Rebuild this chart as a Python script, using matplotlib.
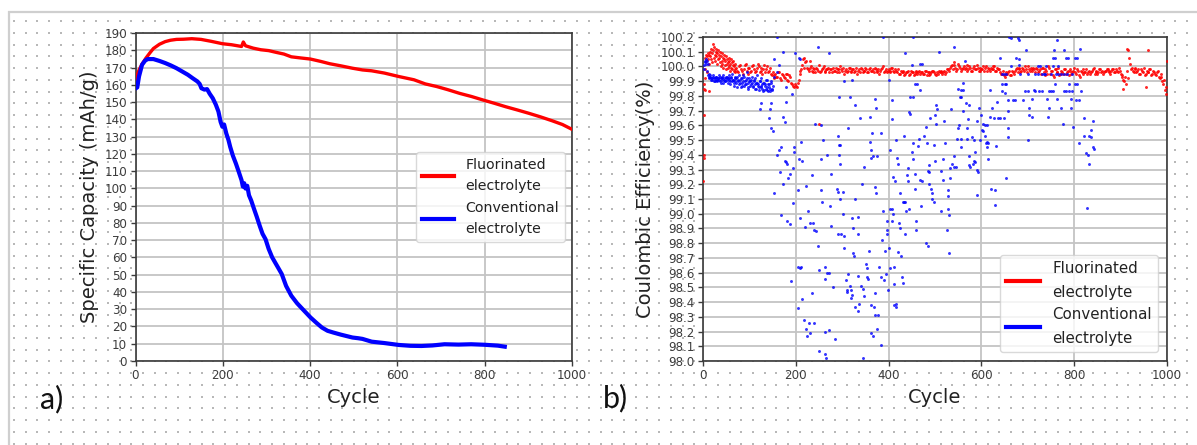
import numpy as np
import matplotlib
matplotlib.use("Agg")
import matplotlib.pyplot as plt
from matplotlib.lines import Line2D
from matplotlib.ticker import MultipleLocator, FormatStrFormatter

# ---------------- Panel a data: specific capacity vs cycle ----------------
fluor_cycles = [1, 4, 8, 15, 24, 33, 41, 55, 68, 80, 94, 110, 129, 150, 173, 199, 220, 243,
                247, 252, 270, 287, 305, 322, 340, 357, 380, 401, 425, 445, 470, 497, 520,
                541, 570, 603, 638, 664, 690, 715, 743, 770, 796, 822, 848, 875, 901, 928,
                954, 978, 1000]
fluor_cap = [163.5, 165.8, 168.5, 172.0, 175.5, 178.5, 181.0, 183.5, 185.0, 185.8, 186.3,
             186.4, 186.7, 186.3, 185.2, 183.8, 183.2, 182.2, 184.8, 182.6, 181.2, 180.3,
             179.8, 178.8, 177.8, 176.2, 175.5, 174.9, 173.5, 172.2, 171.0, 169.6, 168.6,
             168.1, 166.8, 164.8, 162.9, 160.5, 159.0, 157.2, 155.0, 153.2, 151.2, 149.3,
             147.3, 145.4, 143.5, 141.4, 139.2, 137.0, 134.2]

conv_cycles = [1, 4, 8, 15, 22, 28, 41, 55, 68, 81, 94, 107, 120, 131, 142, 147, 151, 158,
               164, 170, 177, 184, 190, 195, 199, 203, 208, 213, 217, 223, 230, 236, 243, 246,
               249, 252, 256, 260, 265, 271, 278, 285, 291, 298, 305, 313, 320, 328, 335, 345,
               357, 370, 383, 401, 415, 427, 440, 453, 470, 497, 510, 520, 541, 570, 603, 630,
               655, 680, 708, 740, 769, 800, 830, 846]
conv_cap = [158.0, 158.5, 164.8, 171.6, 174.0, 174.9, 174.9, 173.8, 172.6, 171.2, 169.6,
            167.7, 165.8, 163.8, 161.9, 160.5, 158.0, 157.2, 157.5, 154.8, 152.2, 148.5,
            144.5, 138.5, 135.7, 137.0, 131.8, 128.0, 124.0, 119.0, 114.4, 110.0, 104.7,
            101.0, 103.0, 99.9, 101.5, 96.0, 93.0, 88.5, 83.4, 78.0, 73.7, 70.5, 65.0, 60.1,
            57.0, 53.5, 50.4, 43.5, 37.8, 33.5, 30.0, 25.2, 22.0, 19.4, 17.5, 16.5, 15.3,
            13.6, 13.2, 12.8, 11.2, 10.4, 9.3, 8.8, 8.7, 9.0, 9.7, 9.5, 9.7, 9.4, 8.9, 8.3]

# ---------------- Panel b data: coulombic efficiency vs cycle ----------------
# Fluorinated, first cycles (cycle, CE)
fluor_ce_early = [(1, 99.22), (2, 99.38), (2, 99.40), (2, 99.67), (3, 99.85), (3, 99.88),
                  (4, 99.92), (5, 99.84), (4, 99.98), (5, 100.06), (6, 100.08), (7, 100.04),
                  (8, 99.96), (9, 100.07), (10, 100.09), (11, 100.05), (12, 99.83),
                  (13, 100.08), (14, 100.02), (15, 100.10), (16, 100.07), (17, 100.12),
                  (18, 100.05), (19, 100.09), (20, 100.03), (21, 100.15), (22, 100.11),
                  (23, 100.06), (24, 100.13), (25, 100.08), (26, 100.04), (27, 100.10),
                  (28, 100.07), (29, 100.12), (30, 100.02), (31, 100.09), (32, 100.05),
                  (33, 100.11), (34, 100.06), (35, 100.08), (36, 100.03), (37, 100.10),
                  (38, 100.00), (39, 100.07), (40, 100.04), (41, 100.09), (42, 100.02),
                  (43, 100.06), (44, 99.99), (45, 100.05), (46, 100.08), (47, 100.01),
                  (48, 100.04), (49, 99.98), (50, 100.07), (51, 100.02), (52, 100.05),
                  (53, 99.99), (54, 100.03), (55, 100.06), (56, 100.00), (57, 100.04),
                  (58, 99.97), (59, 100.02), (60, 100.05), (61, 99.99), (62, 100.03),
                  (63, 99.98), (64, 100.01), (65, 100.04), (66, 99.97), (67, 100.00),
                  (68, 99.98), (69, 100.02), (70, 99.96)]
# Fluorinated, cycles 72..996 every 4 cycles
fluor_ce_start, fluor_ce_step = 72, 4
fluor_ce_band = [
    99.99, 99.96, 100.01, 99.97, 99.98, 100.02, 99.95, 99.99, 99.97, 100.01, 99.96, 99.99, 100.00,
    99.97, 99.95, 100.01, 99.98, 99.96, 99.99, 99.94, 99.92, 99.95, 99.93, 99.96, 99.91,
    99.94, 99.92, 99.95, 99.90, 99.93, 99.88, 99.86, 99.87, 99.89, 99.95, 99.98, 100.05, 100.03,
    99.99, 99.97, 100.00, 99.96, 99.98, 99.99, 99.97, 99.96, 99.98, 100.00, 99.97, 99.98,
    99.96, 99.98, 99.99, 99.97, 99.96, 99.98, 100.00, 99.97, 99.95, 99.98, 99.97, 99.99, 99.96,
    99.98, 99.97, 99.95, 99.98, 99.99, 99.96, 99.97, 99.98, 99.96, 99.99, 99.97, 99.96,
    99.98, 99.97, 99.95, 99.98, 100.00, 99.97, 99.96, 99.98, 99.97, 99.99, 99.96, 99.97, 99.98,
    99.95, 99.96, 99.97, 99.95, 99.96, 99.94, 99.97, 99.96, 99.95, 99.97, 99.96, 99.95,
    99.96, 99.95, 99.97, 99.96, 99.94, 99.96, 99.97, 99.95, 99.96, 99.97, 99.96, 99.95, 99.97,
    99.96, 99.98, 99.99, 100.01, 100.03, 99.99, 99.98, 100.00, 99.97, 99.99, 99.98, 100.01,
    99.98, 99.99, 99.97, 100.00, 99.98, 99.99, 99.97, 99.98, 100.00, 99.99, 99.97, 99.98, 99.99,
    99.98, 100.00, 99.97, 99.98, 99.96, 99.95, 99.94, 99.96, 99.95, 99.97, 99.94, 99.96,
    99.97, 99.99, 99.98, 99.96, 99.99, 99.97, 99.98, 100.00, 99.97, 99.98, 99.99, 99.96, 99.98,
    99.97, 99.95, 99.99, 99.94, 99.97, 100.00, 99.95, 99.97, 99.93, 99.98, 99.96, 99.94,
    99.97, 99.95, 99.98, 99.96, 99.94, 99.97, 99.96, 99.99, 99.95, 99.97, 99.93, 99.96, 99.98,
    99.96, 99.95, 99.97, 99.96, 99.98, 99.95, 99.97, 99.96, 99.98, 99.97, 99.96, 99.97,
    99.98, 99.96, 99.97, 99.98, 99.96, 99.97, 99.99, 99.95, 99.93, 99.90, 99.88, 99.92, 100.02,
    99.99, 99.96, 99.98, 99.97, 99.95, 99.98, 99.96, 99.94, 99.97, 99.96, 99.98, 99.95,
    99.96, 99.94, 99.97, 99.92, 99.93, 99.88, 99.84]
# Fluorinated, cycles 74..998 every 4 cycles (interleaved points of the same band)
fluor_ce_start2 = 74
fluor_ce_band2 = [
    99.97, 100.00, 99.98, 99.95, 100.01, 99.97, 99.99, 99.96, 100.00, 99.98, 99.97, 100.02,
    99.96, 99.99, 99.98, 99.96, 100.00, 99.97, 99.95, 99.96, 99.94, 99.93, 99.96, 99.92, 99.95,
    99.93, 99.95, 99.91, 99.94, 99.89, 99.87, 99.88, 99.86, 99.91, 99.97, 100.01, 99.99,
    100.04, 99.98, 99.99, 99.97, 99.99, 99.96, 99.98, 100.01, 99.97, 99.99, 99.96, 99.98, 99.99,
    99.98, 99.96, 99.97, 99.99, 99.98, 99.96, 99.98, 99.99, 99.97, 99.96, 99.99, 99.97, 99.98,
    99.96, 99.99, 99.97, 99.96, 99.98, 99.97, 99.99, 99.96, 99.98, 99.97, 99.98, 99.99,
    99.96, 99.98, 99.97, 99.99, 99.96, 99.98, 99.97, 99.96, 99.99, 99.97, 99.98, 99.96, 99.95,
    99.97, 99.96, 99.94, 99.96, 99.97, 99.95, 99.96, 99.94, 99.96, 99.95, 99.97, 99.96,
    99.95, 99.97, 99.94, 99.96, 99.95, 99.97, 99.96, 99.94, 99.95, 99.96, 99.97, 99.96, 99.95,
    99.98, 99.97, 100.00, 99.98, 100.01, 99.97, 100.02, 99.99, 99.98, 100.00, 99.99, 99.97,
    100.00, 99.97, 99.99, 99.98, 100.01, 99.97, 99.99, 99.98, 99.97, 100.00, 99.99, 99.97,
    99.98, 100.00, 99.97, 99.99, 99.98, 99.95, 99.97, 99.93, 99.95, 99.96, 99.94, 99.97, 99.95,
    99.98, 99.96, 99.99, 99.97, 99.98, 100.00, 99.96, 99.98, 99.99, 99.97, 99.98, 99.99,
    99.96, 99.98, 99.99, 99.96, 99.98, 99.95, 99.99, 99.97, 99.94, 99.98, 99.96, 99.99, 99.95,
    99.96, 99.98, 99.95, 99.97, 99.98, 99.95, 99.97, 99.96, 99.98, 99.94, 99.97, 99.95,
    99.96, 99.98, 99.96, 99.95, 99.97, 99.99, 99.96, 99.95, 99.98, 99.96, 99.95, 99.97, 99.98,
    99.97, 99.95, 99.98, 99.96, 99.98, 99.96, 99.97, 99.94, 99.91, 99.93, 99.97, 100.06,
    99.98, 99.97, 99.99, 99.96, 99.98, 99.95, 99.97, 99.99, 99.95, 99.96, 99.98, 99.94, 99.97,
    99.95, 99.96, 99.93, 99.95, 99.90, 99.91, 99.86]
fluor_ce_outliers = [(251, 99.61), (913, 100.12), (916, 100.11), (958, 100.11), (905, 99.85),
                     (955, 99.86), (998, 99.81), (1000, 100.04), (218, 100.06), (230, 100.04)]

# Conventional, cycles 2..150 every 2 cycles, and 3..149 every 2 cycles
conv_ce_step = 2
conv_ce_dense = [
    99.98, 100.03, 100.05, 100.04, 100.02, 99.95, 99.93, 99.94, 99.92, 99.91, 99.93, 99.92,
    99.90, 99.93, 99.91, 99.92, 99.94, 99.90, 99.92, 99.91, 99.93, 99.89, 99.92, 99.90, 99.93,
    99.91, 99.92, 99.94, 99.90, 99.92, 99.95, 99.91, 99.89, 99.93, 99.90, 99.92, 99.86, 99.91,
    99.94, 99.89, 99.92, 99.87, 99.90, 99.93, 99.88, 99.91, 99.96, 99.89, 99.86, 99.92, 99.90,
    99.88, 99.93, 99.87, 99.91, 99.85, 99.89, 99.94, 99.88, 99.86, 99.90, 99.92, 99.87, 99.85,
    99.89, 99.84, 99.88, 99.91, 99.86, 99.83, 99.88, 99.85, 99.90, 99.84, 99.87]
conv_ce_dense2 = [
    100.01, 100.04, 100.02, 99.97, 99.94, 99.92, 99.93, 99.91, 99.92, 99.94,
    99.90, 99.92, 99.91, 99.93, 99.90, 99.92, 99.91, 99.93, 99.89, 99.92,
    99.94, 99.91, 99.90, 99.92, 99.93, 99.89, 99.91, 99.92, 99.88, 99.93,
    99.90, 99.91, 99.87, 99.92, 99.89, 99.93, 99.90, 99.88, 99.91, 99.86,
    99.92, 99.89, 99.94, 99.87, 99.90, 99.88, 99.92, 99.85, 99.90, 99.87,
    99.91, 99.89, 99.86, 99.90, 99.88, 99.92, 99.85, 99.89, 99.87, 99.84,
    99.90, 99.86, 99.88, 99.83, 99.89, 99.87, 99.85, 99.91, 99.84, 99.88,
    99.86, 99.83, 99.89, 99.85]
conv_ce_sparse_a = [
    (124, 99.75), (122, 99.71), (147, 99.75), (145, 99.71), (143, 99.65), (147, 99.58),
    (151, 99.56), (153, 100.05), (160, 100.20), (164, 100.01), (159, 99.96), (153, 99.93),
    (173, 100.10), (179, 99.86), (178, 99.76), (172, 99.66), (176, 99.62), (169, 99.45),
    (164, 99.43), (159, 99.40), (196, 99.45), (196, 99.42), (177, 99.36), (179, 99.35),
    (182, 99.34), (167, 99.28), (187, 99.27), (183, 99.24), (172, 99.20), (194, 99.31),
    (154, 99.14), (194, 99.07), (169, 98.99), (180, 98.95), (188, 98.93), (190, 98.54),
    (192, 99.81), (198, 100.09), (206, 100.06), (210, 100.05), (204, 98.64), (210, 98.63),
    (212, 98.64), (205, 98.36), (214, 98.42), (218, 98.28), (228, 98.26), (239, 98.26),
    (223, 98.22), (231, 98.19), (225, 98.17), (234, 98.46), (220, 98.91), (231, 98.94),
    (236, 98.94), (239, 98.89), (243, 98.88), (227, 99.02), (210, 98.97), (205, 99.16),
    (223, 99.19), (206, 99.37), (214, 99.36), (212, 99.49), (235, 99.26), (255, 99.60),
    (258, 99.50), (241, 99.61), (254, 99.37), (255, 99.16), (247, 98.78), (257, 99.08),
    (250, 98.07), (250, 98.62), (247, 100.13)]
conv_ce_sparse_b = [
    (267, 99.40), (263, 98.05), (265, 98.02), (263, 98.64), (267, 98.60), (262, 98.56),
    (272, 98.60), (263, 98.20), (272, 98.21), (284, 98.15), (280, 98.50), (276, 98.92),
    (274, 99.05), (276, 99.27), (288, 99.17), (292, 99.15), (290, 99.53), (293, 99.47),
    (296, 99.47), (294, 99.40), (296, 99.34), (296, 99.10), (301, 99.15), (290, 98.86),
    (298, 98.86), (304, 98.85), (301, 99.00), (304, 98.77), (308, 98.55), (310, 98.48),
    (311, 98.47), (317, 98.51), (319, 98.48), (312, 98.59), (322, 98.45), (320, 98.43),
    (321, 98.97), (323, 98.90), (323, 98.73), (326, 98.71), (312, 99.58), (317, 99.79),
    (327, 99.74), (327, 99.10), (333, 98.98), (334, 98.86), (327, 98.37), (333, 98.34),
    (337, 98.39), (335, 98.58), (340, 98.51), (339, 99.65), (342, 99.20), (344, 98.49),
    (345, 98.02), (347, 98.44), (348, 99.32), (351, 98.66), (353, 98.63), (356, 98.56),
    (353, 98.57), (358, 98.75), (359, 99.66), (363, 98.19), (366, 98.17), (362, 98.38),
    (368, 98.37), (370, 98.31), (359, 99.49), (363, 99.43), (362, 99.38), (364, 99.55),
    (367, 99.39), (374, 99.39), (370, 99.18), (372, 99.14), (370, 99.78), (372, 99.72),
    (371, 98.46), (375, 98.22), (378, 98.31), (380, 98.64), (383, 98.57), (383, 99.55),
    (384, 98.11), (386, 98.82), (388, 99.02), (389, 100.20), (391, 98.55), (393, 98.75),
    (397, 98.95), (397, 98.89), (395, 98.59), (398, 98.48), (397, 98.86), (400, 98.77),
    (402, 99.03), (402, 98.63), (404, 99.43), (407, 99.77), (407, 99.64), (407, 99.03),
    (409, 99.00), (407, 98.95), (411, 98.64), (409, 99.25), (411, 98.52), (412, 98.38),
    (417, 98.39), (415, 98.37), (413, 99.22), (415, 99.50), (419, 99.38), (421, 99.34),
    (421, 98.74), (423, 98.94), (425, 98.90), (425, 99.14), (427, 98.71), (429, 98.57),
    (430, 98.53), (431, 99.08), (433, 99.08), (436, 99.08), (433, 99.53), (435, 100.09),
    (435, 98.86), (438, 99.02), (439, 99.26), (442, 99.31), (442, 99.22), (443, 99.69),
    (446, 99.68), (445, 99.03), (447, 99.79), (453, 99.79), (450, 99.42), (452, 99.48),
    (456, 99.27), (453, 99.37), (457, 99.17), (456, 99.88), (462, 99.88), (460, 98.95),
    (458, 98.89), (464, 99.46), (468, 100.02), (472, 100.02), (466, 99.51), (468, 99.23),
    (472, 99.22), (468, 99.84), (304, 99.90), (321, 99.91), (272, 100.09), (400, 99.91),
    (450, 100.01), (453, 100.20), (294, 99.79)]
conv_ce_sparse_c = [
    (470, 99.05), (480, 98.80), (484, 98.78), (476, 99.53), (480, 99.59), (482, 99.48),
    (484, 99.29), (486, 99.28), (486, 99.33), (489, 99.65), (487, 99.20), (492, 99.17),
    (494, 99.14), (494, 99.10), (497, 99.08), (497, 99.47), (499, 99.36), (501, 99.67),
    (502, 99.61), (503, 99.74), (505, 99.71), (509, 100.10), (513, 99.02), (514, 99.29),
    (517, 99.23), (517, 99.37), (519, 99.63), (521, 99.48), (525, 98.89), (527, 99.16),
    (528, 99.12), (529, 99.03), (531, 98.99), (531, 98.73), (533, 99.24), (533, 99.31),
    (535, 99.71), (537, 99.34), (540, 100.13), (542, 99.39), (542, 99.32), (546, 99.32),
    (547, 99.51), (550, 99.58), (550, 99.85), (552, 99.60), (553, 99.79), (557, 99.79),
    (555, 99.84), (561, 99.84), (555, 99.51), (557, 99.45), (560, 99.70), (561, 99.89),
    (564, 100.04), (566, 99.75), (573, 99.74), (568, 99.58), (569, 99.51), (571, 99.64),
    (573, 99.39), (574, 99.33), (576, 99.32), (579, 99.52), (581, 99.34), (583, 99.36),
    (587, 99.35), (585, 99.50), (587, 99.42), (590, 99.30), (591, 99.13), (591, 99.63),
    (592, 99.28), (595, 99.72), (596, 99.50), (599, 99.67), (601, 99.57), (603, 99.61),
    (607, 99.60), (611, 99.60), (604, 99.56), (607, 99.53), (609, 99.48), (611, 99.49),
    (615, 99.48), (613, 99.45), (615, 99.37), (619, 99.66), (619, 99.84), (621, 99.17),
    (629, 99.16), (623, 99.72), (627, 99.65), (636, 99.65), (640, 99.65), (629, 99.06),
    (633, 99.76), (632, 99.46), (641, 100.06), (644, 99.95), (648, 99.95), (652, 99.95),
    (644, 99.88), (650, 99.88), (653, 99.88), (644, 99.83), (650, 99.82), (648, 99.65)]
conv_ce_sparse_d = [
    (654, 99.24), (658, 99.58), (658, 99.52), (658, 99.77), (658, 99.70), (660, 100.20),
    (663, 100.19), (664, 100.00), (668, 99.77), (672, 99.77), (674, 100.06), (680, 100.05),
    (678, 100.19), (680, 100.18), (680, 100.01), (683, 99.95), (689, 99.77), (694, 99.83),
    (700, 99.83), (697, 100.11), (701, 99.50), (703, 99.72), (703, 99.67), (709, 99.66),
    (709, 99.78), (713, 99.84), (722, 100.00), (726, 100.00), (716, 99.95), (730, 99.83),
    (734, 99.95), (738, 99.95), (742, 99.78), (744, 99.66), (746, 99.72), (750, 99.83),
    (754, 100.06), (758, 100.06), (756, 100.11), (758, 99.88), (762, 99.78), (764, 100.18),
    (765, 100.00), (766, 99.95), (771, 99.95), (771, 99.72), (775, 99.61), (777, 99.83),
    (783, 99.83), (788, 99.83), (779, 100.11), (783, 100.06), (787, 100.06), (788, 99.88),
    (793, 99.72), (793, 99.78), (797, 99.59), (801, 99.88), (806, 99.88), (802, 100.06),
    (807, 100.06), (804, 99.77), (810, 99.77), (810, 99.48), (812, 100.12), (815, 99.83),
    (821, 99.65), (822, 99.53), (826, 99.41), (829, 99.40), (828, 99.04), (831, 99.34),
    (832, 99.53), (836, 99.52), (836, 99.57), (840, 99.45), (843, 99.44), (841, 99.63),
    (700, 99.95), (722, 99.95), (730, 99.95), (750, 99.95), (760, 99.95), (778, 99.95),
    (785, 99.95), (795, 99.95), (715, 99.83), (725, 99.83), (745, 99.83), (755, 99.83),
    (796, 99.83), (740, 100.00), (755, 100.00)]

legend_labels = ["Fluorinated\nelectrolyte", "Conventional\nelectrolyte"]
RED, BLUE = "#ff0000", "#0000ff"

# ---------------- figure ----------------
W, H = 1197, 445
fig = plt.figure(figsize=(W / 100, H / 100), dpi=100)
fig.patch.set_facecolor("white")

# slide background: dotted guide grid + frame
bg = fig.add_axes([0, 0, 1, 1], zorder=-10)
bg.set_xlim(0, W)
bg.set_ylim(H, 0)
bg.axis("off")
gx = np.arange(14, W, 11.73)
gy = np.arange(21.3, H, 11.73)
GX, GY = np.meshgrid(gx, gy)
bg.scatter(GX.ravel(), GY.ravel(), s=2.0, c="#b8b8b8", marker="s", linewidths=0)
bg.plot([8, W], [11.5, 11.5], color="#cfcfcf", lw=1.6, solid_capstyle="butt")
bg.plot([8.5, 8.5], [11, H], color="#cfcfcf", lw=1.6, solid_capstyle="butt")

TICK_C = "#3c3c3c"
LABEL_C = "#222222"


def style_axes(ax):
    ax.set_facecolor("white")
    ax.grid(True, color="#c4c4c4", lw=1.3, zorder=0)
    ax.set_axisbelow(True)
    for s in ax.spines.values():
        s.set_color("#3a3a3a")
        s.set_linewidth(1.2)
    ax.tick_params(labelsize=8.6, colors=TICK_C, length=3.5, width=1.0, pad=2.5)


def make_legend(ax, loc, pad, fs):
    handles = [Line2D([], [], color=RED, lw=3), Line2D([], [], color=BLUE, lw=3)]
    leg = ax.legend(handles, legend_labels, loc=loc, fontsize=fs, handlelength=2.3,
                    borderaxespad=pad, labelspacing=0.5, framealpha=0.8,
                    edgecolor="#d0d0d0", fancybox=True)
    for t in leg.get_texts():
        t.set_linespacing(1.72)
        t.set_color("#222222")
    return leg


# ---- panel a ----
axa = fig.add_axes([135.5 / W, 1 - 361 / H, (572 - 135.5) / W, (361 - 33) / H])
style_axes(axa)
axa.plot(fluor_cycles, fluor_cap, color=RED, lw=2.4, zorder=3)
axa.plot(conv_cycles, conv_cap, color=BLUE, lw=3.0, zorder=3)
axa.set_xlim(0, 1000)
axa.set_ylim(0, 190)
axa.xaxis.set_major_locator(MultipleLocator(200))
axa.yaxis.set_major_locator(MultipleLocator(10))
axa.set_xlabel("Cycle", fontsize=14, color=LABEL_C, labelpad=4)
axa.set_ylabel("Specific Capacity (mAh/g)", fontsize=14, color=LABEL_C, labelpad=4)
make_legend(axa, "center right", 0.5, 10.2)

# ---- panel b ----
axb = fig.add_axes([703 / W, 1 - 361 / H, (1167 - 703) / W, (361 - 37) / H])
style_axes(axb)
fe_x = [c for c, v in fluor_ce_early] + \
       [fluor_ce_start + fluor_ce_step * i for i in range(len(fluor_ce_band))] + \
       [fluor_ce_start2 + fluor_ce_step * i for i in range(len(fluor_ce_band2))] + \
       [c for c, v in fluor_ce_outliers]
fe_y = [v for c, v in fluor_ce_early] + list(fluor_ce_band) + list(fluor_ce_band2) + \
       [v for c, v in fluor_ce_outliers]
axb.scatter(fe_x, fe_y, s=4.5, color=RED, linewidths=0, alpha=0.85, zorder=3)

conv_sparse = conv_ce_sparse_a + conv_ce_sparse_b + conv_ce_sparse_c + conv_ce_sparse_d
ce_x = [conv_ce_step * (i + 1) for i in range(len(conv_ce_dense))] + \
       [conv_ce_step * i + 3 for i in range(len(conv_ce_dense2))] + \
       [c for c, v in conv_sparse]
ce_y = list(conv_ce_dense) + list(conv_ce_dense2) + [v for c, v in conv_sparse]
axb.scatter(ce_x, ce_y, s=4.5, color=BLUE, linewidths=0, alpha=0.8, zorder=3)

axb.set_xlim(0, 1000)
axb.set_ylim(98.0, 100.2)
axb.xaxis.set_major_locator(MultipleLocator(200))
axb.yaxis.set_major_locator(MultipleLocator(0.1))
axb.yaxis.set_major_formatter(FormatStrFormatter("%.1f"))
axb.set_xlabel("Cycle", fontsize=14, color=LABEL_C, labelpad=4)
axb.set_ylabel("Coulombic Efficiency(%)", fontsize=14, color=LABEL_C, labelpad=4)
make_legend(axb, "lower right", 0.6, 10.8)

# panel letters
fig.text(52 / W, 1 - 399 / H, "a)", fontsize=22, family="Lato", color="#111111",
         ha="center", va="center")
fig.text(615 / W, 1 - 398 / H, "b)", fontsize=22, family="Lato", color="#111111",
         ha="center", va="center")

fig.savefig("out.png", dpi=100, facecolor="white")
